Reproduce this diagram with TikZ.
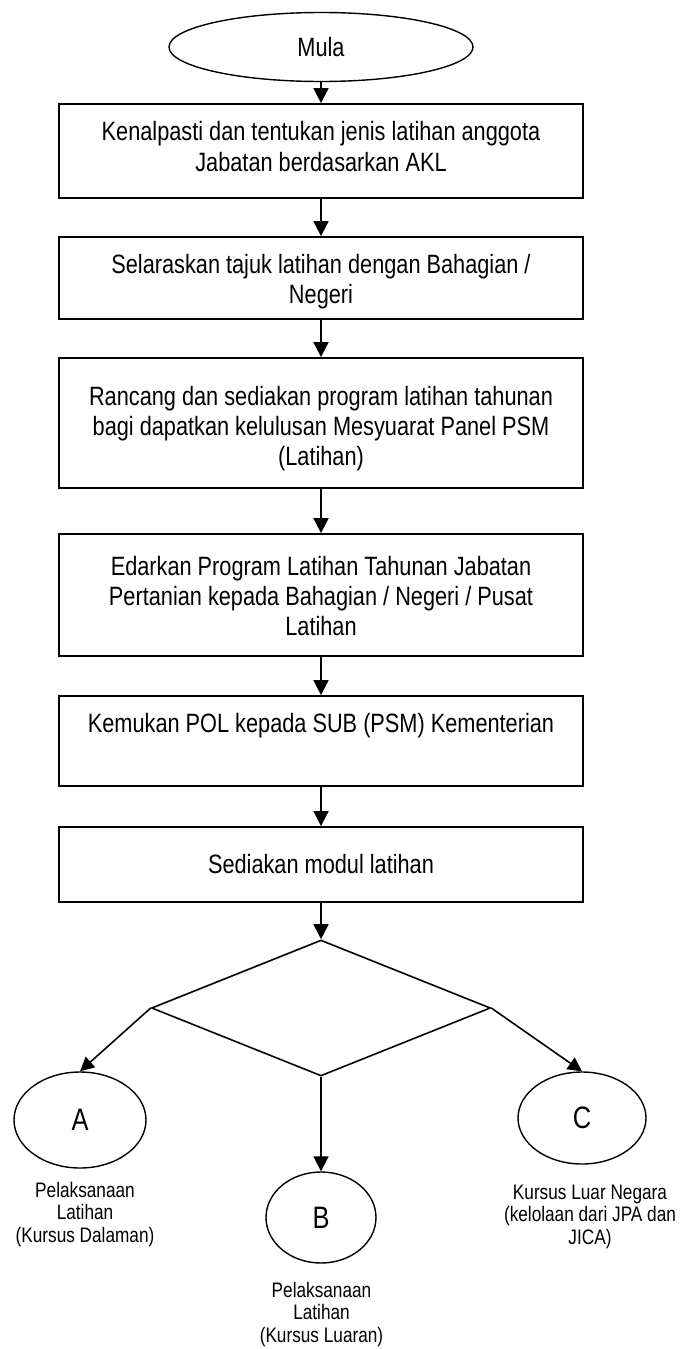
\documentclass[tikz,border=0pt]{standalone}
\usepackage{fontspec}
\setmainfont{Liberation Sans}[FakeStretch=0.82]
\usetikzlibrary{shapes.geometric,arrows.meta}
\begin{document}
\begin{tikzpicture}[x=1pt,y=-1pt,
  stepbox/.style={draw,rectangle,line width=1.8pt,minimum width=524pt,inner sep=0pt},
  boxtext/.style={anchor=north,inner sep=0pt,align=center,font=\fontsize{26.5}{30}\selectfont},
  term/.style={draw,ellipse,line width=1.4pt,inner sep=0pt},
  conn/.style={line width=1.8pt,-{Triangle[length=15pt,width=15pt]}},
  diag/.style={line width=1.6pt,-{Triangle[length=14pt,width=14pt]}},
  lab/.style={anchor=north,inner sep=0pt,align=center,font=\fontsize{21}{22.5}\selectfont}]
\useasboundingbox (0,0) rectangle (686,1349);

\node[term,minimum width=304pt,minimum height=69pt,font=\fontsize{26.5}{30}\selectfont] (start) at (321,47) {Mula};

\node[stepbox,minimum height=94pt]  (b1) at (321,151) {};
\node[stepbox,minimum height=82pt]  (b2) at (321,278) {};
\node[stepbox,minimum height=130pt] (b3) at (321,423) {};
\node[stepbox,minimum height=122pt] (b4) at (321,595) {};
\node[stepbox,minimum height=90pt]  (b5) at (321,741) {};
\node[stepbox,minimum height=75pt]  (b6) at (321,864.5) {};

\node[boxtext,font=\fontsize{26.5}{31.5}\selectfont] (t1) at (321,120.7) {Kenalpasti dan tentukan jenis latihan anggota\\Jabatan berdasarkan AKL};
\node[boxtext] (t2) at (321,253.7) {Selaraskan tajuk latihan dengan Bahagian /\\Negeri};
\node[boxtext] (t3) at (321,385.7) {Rancang dan sediakan program latihan tahunan\\bagi dapatkan kelulusan Mesyuarat Panel PSM\\(Latihan)};
\node[boxtext] (t4) at (321,555.7) {Edarkan Program Latihan Tahunan Jabatan\\Pertanian kepada Bahagian / Negeri / Pusat\\Latihan};
\node[boxtext] (t5) at (321,712.7) {Kemukan POL kepada SUB (PSM) Kementerian};
\node[boxtext] (t6) at (321,853.7) {Sediakan modul latihan};

\node[draw,diamond,line width=1.6pt,minimum width=339pt,minimum height=136pt,inner sep=0pt] (dec) at (321,1008) {};

\node[term,minimum width=132pt,minimum height=96pt,font=\fontsize{31}{31}\selectfont] (A) at (80,1120) {A};
\node[term,minimum width=110pt,minimum height=91pt,font=\fontsize{31}{31}\selectfont] (B) at (321,1217.5) {B};
\node[term,minimum width=128pt,minimum height=92pt,font=\fontsize{31}{31}\selectfont] (C) at (582,1118) {C};

\node[lab] (la) at (85,1181.7) {Pelaksanaan\\Latihan\\(Kursus Dalaman)};
\node[lab] (lb) at (321.5,1281.7) {Pelaksanaan\\Latihan\\(Kursus Luaran)};
\node[lab] (lc) at (590,1184.7) {Kursus Luar Negara\\(kelolaan dari JPA dan\\JICA)};

\draw[conn] (start.south) -- (b1.north);
\draw[conn] (b1.south) -- (b2.north);
\draw[conn] (b2.south) -- (b3.north);
\draw[conn] (b3.south) -- (b4.north);
\draw[conn] (b4.south) -- (b5.north);
\draw[conn] (b5.south) -- (b6.north);
\draw[conn] (b6.south) -- (dec.north);
\draw[diag] (dec.west) -- (A.north);
\draw[diag] (dec.east) -- (C.north);
\draw[conn] (dec.south) -- (B.north);
\end{tikzpicture}
\end{document}
